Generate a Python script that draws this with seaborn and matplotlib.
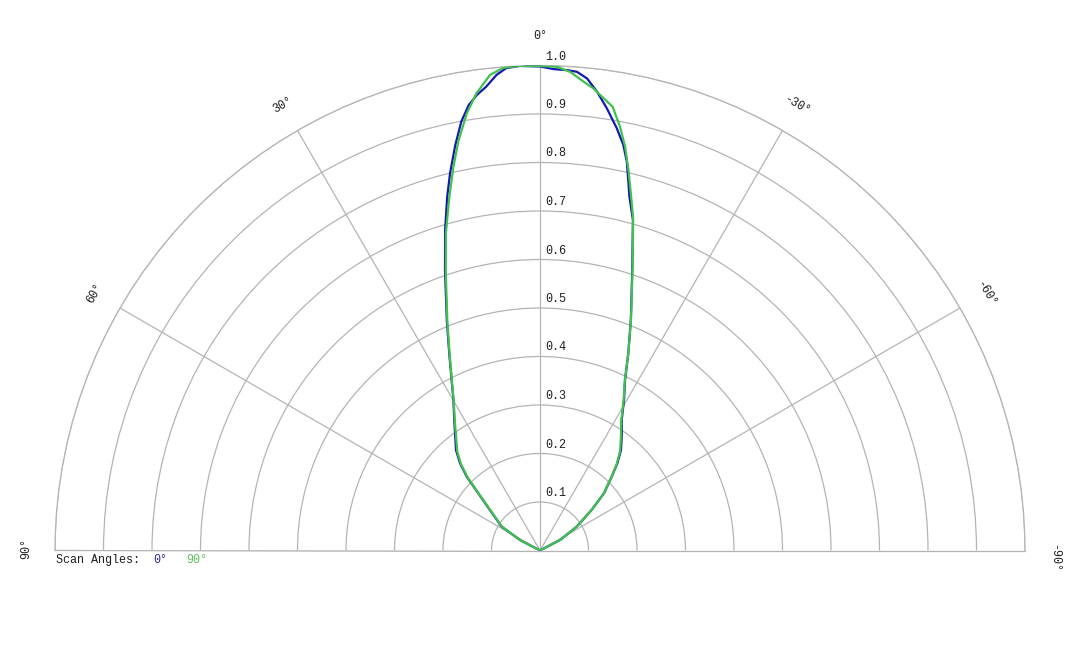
import numpy as np
import pandas as pd
import matplotlib
matplotlib.use("Agg")
import matplotlib.pyplot as plt
import seaborn as sns

# ---- data (angle in degrees, relative intensity) ----
theta_0 = [66, 62.3, 58.1, 51.0, 47.2, 44.8, 42.5, 39.9, 33.3, 29.9, 27.4, 24.7, 22.0,
           18.7, 16.5, 14.7, 13.4, 11.8, 10.4, 9.1, 7.9, 6.6, 5.2, 4.0, 2.4, 0.0,
           -1.6, -3.2, -4.4, -5.7, -7.1, -8.6, -10.3, -11.6, -12.6, -14.2, -15.7,
           -18.2, -21.5, -24.1, -26.5, -29.2, -32.1, -34.9, -38.9, -41.6, -44.2,
           -48.2, -51.9, -57.0, -62.3, -66]
r_0 = [0.0, 0.047, 0.093, 0.133, 0.173, 0.214, 0.244, 0.270, 0.322, 0.358, 0.396, 0.448, 0.513,
       0.611, 0.689, 0.754, 0.800, 0.854, 0.899, 0.930, 0.948, 0.963, 0.985, 0.997, 1.000, 0.998,
       0.993, 0.992, 0.990, 0.978, 0.953, 0.922, 0.885, 0.854, 0.821, 0.752, 0.708,
       0.609, 0.511, 0.446, 0.393, 0.355, 0.317, 0.295, 0.266, 0.240, 0.212,
       0.177, 0.135, 0.090, 0.047, 0.0]

theta_90 = [66, 62.3, 58.1, 51.0, 47.2, 44.8, 42.5, 39.9, 33.3, 29.9, 27.4, 24.7, 22.0,
            18.7, 16.5, 14.4, 12.8, 11.3, 9.5, 7.9, 6.0, 4.35, 2.4, 0.0,
            -2.0, -3.6, -5.3, -6.6, -9.3, -10.7, -11.9, -13.1, -14.4, -15.7,
            -18.2, -21.5, -24.1, -26.5, -29.2, -32.1, -34.9, -38.9, -41.6, -44.2,
            -48.2, -51.9, -57.0, -62.3, -66]
r_90 = [0.0, 0.047, 0.092, 0.131, 0.171, 0.211, 0.241, 0.266, 0.320, 0.357, 0.395, 0.446, 0.510,
        0.606, 0.683, 0.752, 0.808, 0.860, 0.914, 0.952, 0.986, 0.998, 1.000, 0.999,
        0.998, 0.989, 0.971, 0.959, 0.927, 0.889, 0.851, 0.805, 0.755, 0.710,
        0.611, 0.512, 0.446, 0.392, 0.353, 0.315, 0.292, 0.263, 0.238, 0.211,
        0.176, 0.135, 0.090, 0.047, 0.0]

ring_values = [0.1, 0.2, 0.3, 0.4, 0.5, 0.6, 0.7, 0.8, 0.9, 1.0]
angle_ticks = [90, 60, 30, 0, -30, -60, -90]
series_names = ["0°", "90°"]
line_colors = ["#1418b4", "#40c24a"]
legend_colors = ["#2a2aa0", "#5cbf5c"]

# ---- build long table ----
df = pd.concat([
    pd.DataFrame({"theta": np.deg2rad(theta_0), "r": r_0, "scan": series_names[0]}),
    pd.DataFrame({"theta": np.deg2rad(theta_90), "r": r_90, "scan": series_names[1]}),
], ignore_index=True)

sns.set_theme(style="white")
plt.rcParams["font.family"] = ["Liberation Mono", "DejaVu Sans Mono", "DejaVu Sans"]

W, H = 1080, 648
fig = plt.figure(figsize=(W / 100, H / 100), dpi=100)
cx, cy, R = 540, 550.5, 485
# polar axes keep a square box; the half-disc is centred vertically inside it
sq_cy = cy - R / 2
ax = fig.add_axes([(cx - R) / W, (H - (sq_cy + R)) / H, 2 * R / W, 2 * R / H],
                  projection="polar")
ax.set_theta_zero_location("N")
ax.set_theta_direction(1)
ax.set_thetamin(-90)
ax.set_thetamax(90)

grid_col = "#b4b4b4"
for name, col in zip(series_names, line_colors):
    sub = df[df["scan"] == name]
    sns.lineplot(data=sub, x="theta", y="r", ax=ax, sort=False, color=col,
                 linewidth=1.6, estimator=None, legend=False, zorder=5)

ax.set_rlim(0, 1)
ax.set_rticks(ring_values)
ax.set_thetagrids(angle_ticks, labels=[""] * len(angle_ticks))
ax.set_yticklabels([])
ax.set_xlabel("")
ax.set_ylabel("")
ax.grid(True, color=grid_col, linewidth=0.9)
for sp in ax.spines.values():
    sp.set_color(grid_col)
    sp.set_linewidth(0.9)
ax.tick_params(length=0)

fs = 8.5
# radial labels
for v in ring_values:
    ax.annotate(f"{v:.1f}", xy=(0, v), xytext=(5, 9), textcoords="offset pixels",
                ha="left", va="center", fontsize=fs, color="#1e1e1e")

# angle labels
for a in angle_ticks:
    dy = 0
    if a == -90:
        dy = -7
    elif a == 90:
        dy = 2
    ax.annotate(f"{a}°", xy=(np.deg2rad(a), 1.06), xytext=(0, dy), textcoords="offset pixels",
                rotation=a, ha="center", va="center", fontsize=fs, color="#1e1e1e",
                rotation_mode="anchor", annotation_clip=False)

# scan angle legend
fig.text(56 / W, 1 - 560 / H, "Scan Angles:", ha="left", va="center", fontsize=fs, color="#1e1e1e")
fig.text(153 / W, 1 - 560 / H, series_names[0], ha="left", va="center", fontsize=fs, color=legend_colors[0])
fig.text(186 / W, 1 - 560 / H, series_names[1], ha="left", va="center", fontsize=fs, color=legend_colors[1])

fig.savefig("out.png", dpi=100, facecolor="white")
